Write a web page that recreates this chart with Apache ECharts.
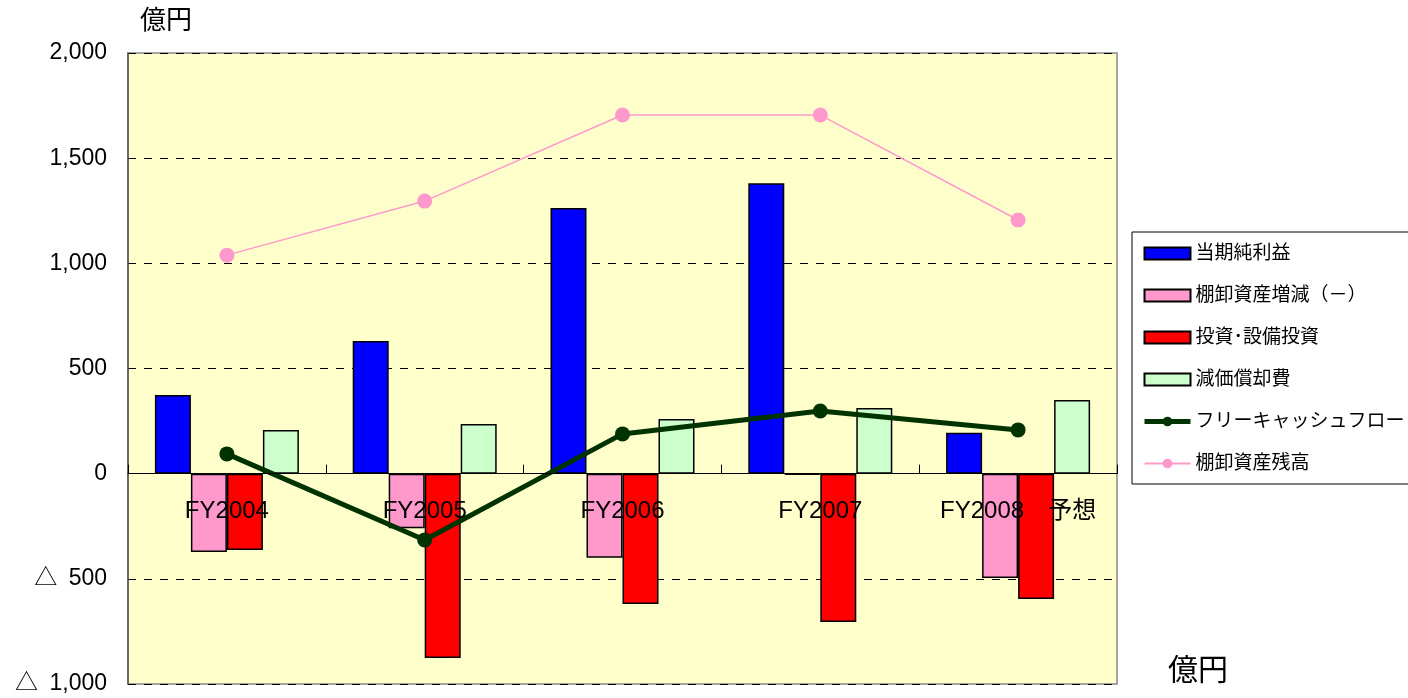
<!DOCTYPE html>
<html><head><meta charset="utf-8">
<script src="https://cdn.jsdelivr.net/npm/echarts@6/dist/echarts.min.js"></script>
<style>html,body{margin:0;padding:0;background:#fff}#c{width:1408px;height:698px}</style>
</head><body><div id="c"></div>
<script>
const categories = ['FY2004','FY2005','FY2006','FY2007','FY2008\u3000予想'];
const netIncome = [374, 631, 1263, 1381, 194];
const inventoryChange = [-372, -259, -400, -5, -496];
const capex = [-363, -876, -620, -705, -596];
const depreciation = [208, 236, 260, 312, 350];
const freeCashFlow = [94, -315, 189, 298, 208];
const inventoryBalance = [1039, 1296, 1705, 1705, 1206];
const seriesNames = ['当期純利益','棚卸資産増減（－）','投資･設備投資','減価償却費','フリーキャッシュフロー','棚卸資産残高'];
const yTicks = {min:-1000, max:2000, interval:500};

const FONT = '"Liberation Sans", Arial, "Noto Sans CJK JP", sans-serif';
const chart = echarts.init(document.getElementById('c'));
const barStyle = c => ({color:c, borderColor:'#000', borderWidth:1.5});
const fmt = v => { const a = Math.abs(v).toLocaleString('en-US'); return v < 0 ? '△\u2002' + a : a; };
chart.setOption({
  animation:false,
  backgroundColor:'#fff',
  textStyle:{fontFamily:FONT},
  graphic:[
    {type:'text', left:140, top:9, style:{text:'億円', font:'26px '+FONT, fill:'#000'}},
    {type:'text', left:1168, top:657, style:{text:'億円', font:'30px '+FONT, fill:'#000'}}
  ],
  grid:{left:128, top:53, right:291, bottom:14, outerBoundsMode:'none', containLabel:false,
        show:true, backgroundColor:'#FFFFCC', borderColor:'#888', borderWidth:1.5},
  legend:{
    orient:'vertical', left:1132, top:232, width:275,
    backgroundColor:'#fff', borderColor:'#000', borderWidth:1,
    padding:[12,6,11,10], itemWidth:46, itemHeight:12, itemGap:23,
    textStyle:{fontSize:19, color:'#000', fontFamily:FONT},
    data:[
      {name:seriesNames[0], icon:'rect'},
      {name:seriesNames[1], icon:'rect'},
      {name:seriesNames[2], icon:'rect'},
      {name:seriesNames[3], icon:'rect'},
      {name:seriesNames[4], lineStyle:{width:5}},
      {name:seriesNames[5]}
    ]
  },
  xAxis:{
    type:'category', data:categories, z:10,
    axisLine:{onZero:true, lineStyle:{color:'#000', width:1}},
    axisTick:{show:true, inside:true, length:9, lineStyle:{color:'#000'}},
    axisLabel:{show:false}
  },
  yAxis:{
    type:'value', min:yTicks.min, max:yTicks.max, interval:yTicks.interval,
    axisLine:{show:true, lineStyle:{color:'#555', width:1.5}},
    axisTick:{show:false},
    axisLabel:{margin:21, fontSize:23, color:'#000', fontFamily:FONT, formatter:fmt},
    splitLine:{show:true, lineStyle:{color:'#000', type:[8,8], width:1}}
  },
  series:[
    {name:seriesNames[0], type:'bar', data:netIncome, barWidth:36, barGap:'0%', itemStyle:barStyle('#0000FF')},
    {name:seriesNames[1], type:'bar', data:inventoryChange, barWidth:36, barGap:'0%', itemStyle:barStyle('#FF99CC')},
    {name:seriesNames[2], type:'bar', data:capex, barWidth:36, barGap:'0%', itemStyle:barStyle('#FF0000')},
    {name:seriesNames[3], type:'bar', data:depreciation, barWidth:36, barGap:'0%', itemStyle:barStyle('#CCFFCC')},
    {name:seriesNames[4], type:'line', data:freeCashFlow, z:5, symbol:'circle', symbolSize:15,
      lineStyle:{color:'#003300', width:5}, itemStyle:{color:'#003300'}},
    {name:seriesNames[5], type:'line', data:inventoryBalance, z:4, symbol:'circle', symbolSize:15,
      lineStyle:{color:'#FF99CC', width:1.5}, itemStyle:{color:'#FF99CC'}},
    {name:'categoryLabels', type:'scatter', silent:true, z:10, symbolSize:0,
      itemStyle:{opacity:1},
      data:categories.map(c => [c, 0]),
      label:{show:true, position:'bottom', distance:26, fontSize:24, color:'#000', opacity:1, fontFamily:FONT,
        formatter:p => p.value[0]}}
  ]
});
</script></body></html>
